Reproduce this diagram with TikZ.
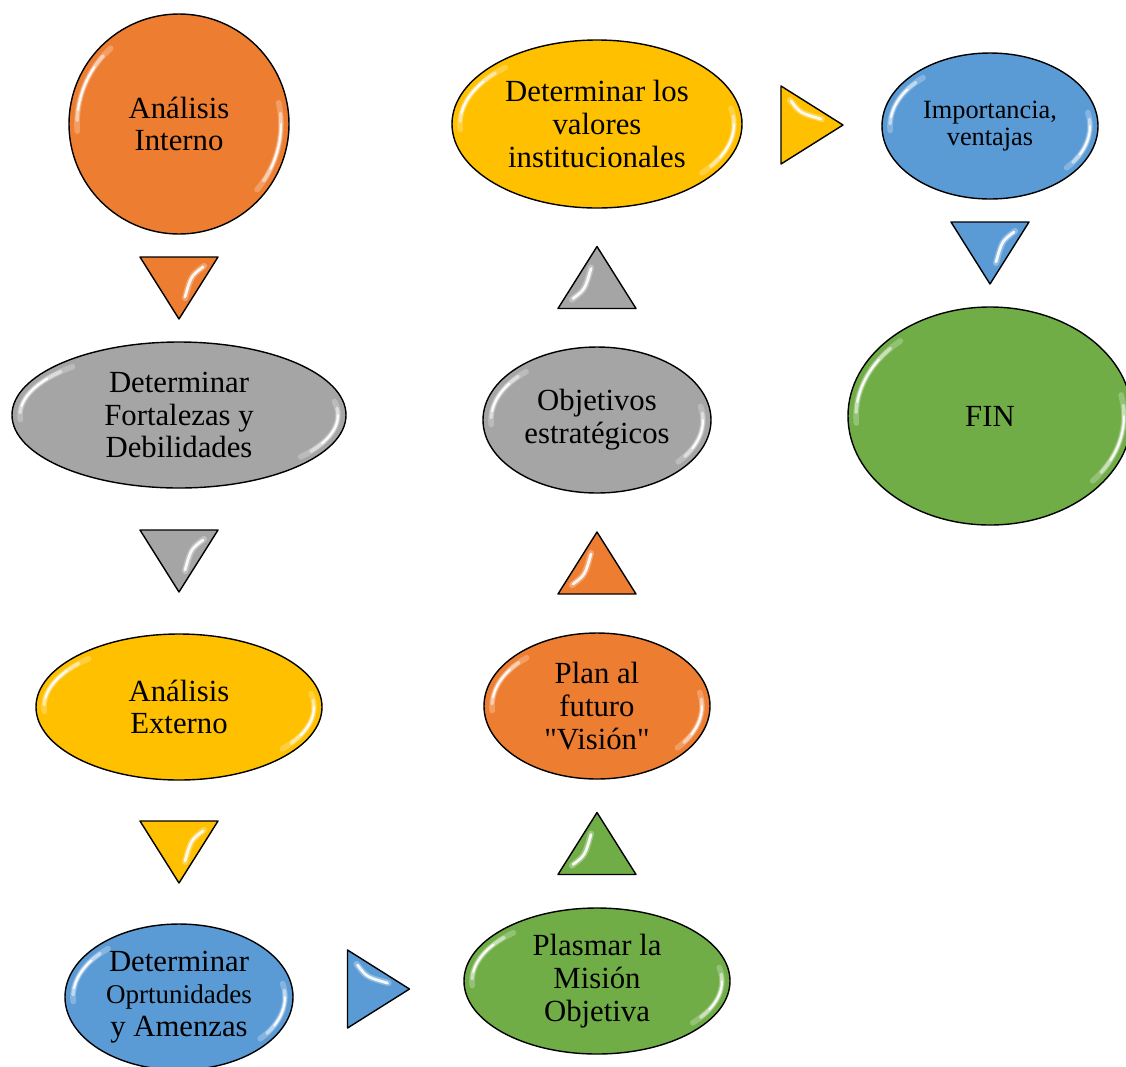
\documentclass[tikz,border=0pt]{standalone}
\usepackage{fontspec}
\setmainfont{Liberation Serif}
\usetikzlibrary{shapes.geometric,calc}
\definecolor{boxorange}{HTML}{ED7D31}
\definecolor{boxgray}{HTML}{A5A5A5}
\definecolor{boxyellow}{HTML}{FFC000}
\definecolor{boxblue}{HTML}{5B9BD5}
\definecolor{boxgreen}{HTML}{70AD47}
\tikzset{
  blob/.style n args={3}{ellipse, draw=black, line width=0.8pt, fill=#1, inner sep=0pt,
    minimum width=#2*0.02cm, minimum height=#3*0.02cm, align=center,
    font=\fontsize{17.5}{18.7}\selectfont},
  shine/.style={white, line cap=round},
}
\newcommand{\gloss}[3]{%
  \begin{scope}[shift={(#1.center)}]
    \foreach \s/\e/\w/\o in {176/228/3.2pt/0.25,182/222/2pt/0.5,188/214/1.1pt/0.95,
        -12/40/3.2pt/0.25,-6/34/2pt/0.5,0/26/1.1pt/0.95}{
      \draw[shine, line width=\w, opacity=\o] (\s:{#2-8} and {#3-8}) arc[start angle=\s, end angle=\e, x radius=#2-8, y radius=#3-8];
    }
  \end{scope}
}

\begin{document}
\begin{tikzpicture}[x=0.02cm,y=-0.02cm]
  \useasboundingbox (0,0) rectangle (1126,1066);
  \node[blob={boxorange}{220}{220}] (interno) at (179,124) {Análisis\\Interno};
  \node[blob={boxgray}{334}{146}] (fortdeb) at (179,415) {Determinar\\Fortalezas y\\Debilidades};
  \node[blob={boxyellow}{286}{146}] (externo) at (179,707) {Análisis\\Externo};
  \node[blob={boxblue}{228}{146}] (oportam) at (179,997) {Determinar\\{\fontsize{15.4}{18.7}\selectfont Oprtunidades}\\y Amenzas};
  \node[blob={boxgreen}{266}{146}] (mision) at (597,981) {Plasmar la\\Misión\\Objetiva};
  \node[blob={boxorange}{226}{146}] (vision) at (597,706) {Plan al\\futuro\\\textquotedbl Visión\textquotedbl};
  \node[blob={boxgray}{228}{146}] (objetivos) at (597,420) {Objetivos\\estratégicos};
  \node[blob={boxyellow}{290}{168}] (valores) at (597,124) {Determinar los\\valores\\institucionales};
  \node[blob={boxblue}{216}{146}, font=\fontsize{15}{15.3}\selectfont] (importancia) at (990,126) {Importancia,\\ventajas};
  \node[blob={boxgreen}{284}{218}] (fin) at (990,416) {FIN};
  \foreach \n/\rx/\ry in {interno/110/110,fortdeb/167/73,externo/143/73,oportam/114/73,mision/133/73,
      vision/113/73,objetivos/114/73,valores/145/84,importancia/108/73,fin/142/109}{
    \gloss{\n}{\rx}{\ry}
  }
  \foreach \a/\b/\r/\c in {interno.south/fortdeb.north/0/boxorange,fortdeb.south/externo.north/0/boxgray,
      externo.south/oportam.north/0/boxyellow,oportam.east/mision.west/90/boxblue,
      mision.north/vision.south/180/boxgreen,vision.north/objetivos.south/180/boxorange,
      objetivos.north/valores.south/180/boxgray,valores.east/importancia.west/90/boxyellow,
      importancia.south/fin.north/0/boxblue}{
    \begin{scope}[shift={($(\a)!0.5!(\b)$)}, rotate=\r]
      \draw[fill=\c, line width=0.8pt, line join=round] (-39,-31) -- (39,-31) -- (0,31) -- cycle;
      \draw[shine, line width=3.5pt, opacity=0.3] (25,-22) .. controls (12,-12) .. (6,10);
      \draw[shine, line width=1.6pt, opacity=0.9] (24,-21) .. controls (12,-12) .. (6,9);
    \end{scope}
  }
\end{tikzpicture}
\end{document}
